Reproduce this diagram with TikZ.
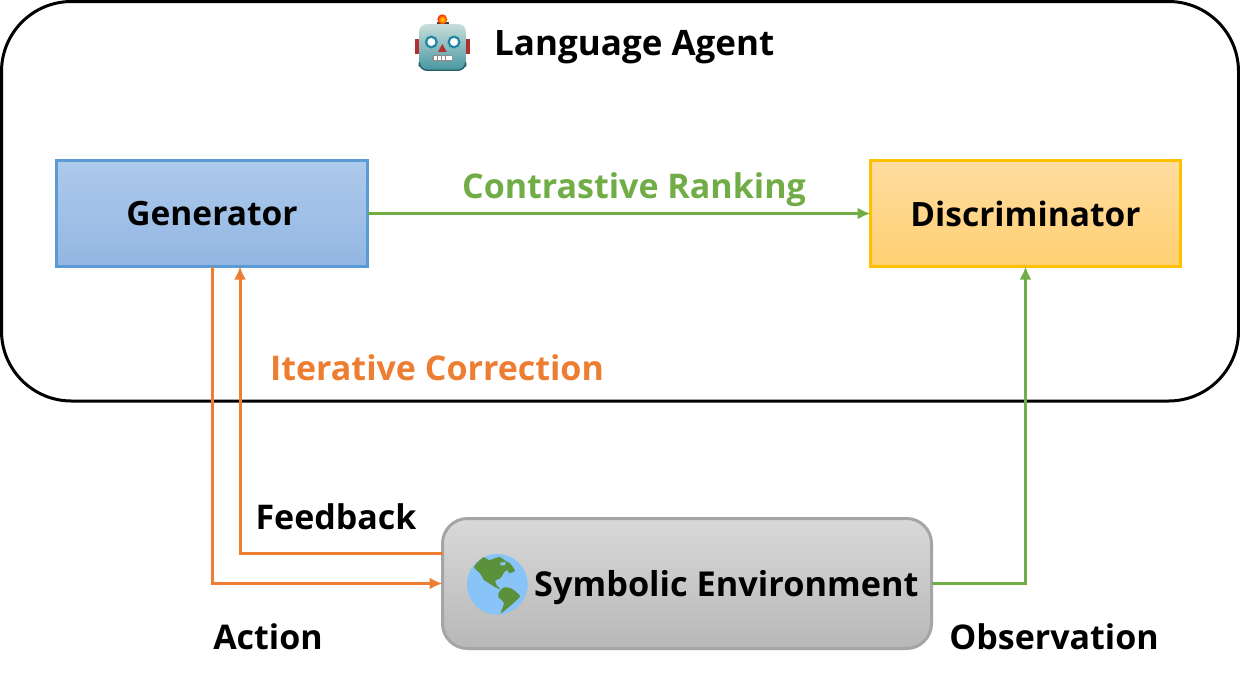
\documentclass[tikz,border=0pt]{standalone}
\usepackage{fontspec}
\setmainfont{Open Sans}
\usetikzlibrary{arrows.meta,calc}
\definecolor{cgreen}{HTML}{70AD47}
\definecolor{corange}{HTML}{ED7D31}
\definecolor{gblue}{HTML}{5B9BD5}
\definecolor{ygold}{HTML}{FFC000}
\definecolor{ggray}{HTML}{A5A5A5}
\definecolor{blutop}{HTML}{AECAEB}
\definecolor{blubot}{HTML}{92B6E2}
\definecolor{goldtop}{HTML}{FFDCA0}
\definecolor{goldbot}{HTML}{FFD072}
\definecolor{landg}{HTML}{5C913B}
\definecolor{seab}{HTML}{89C4F8}
\definecolor{robred}{HTML}{B03030}
\definecolor{robring}{HTML}{1E87A5}
\tikzset{
  box/.style={draw,line width=3pt,outer sep=0pt,minimum height=106pt,anchor=north west,inner sep=0pt,font=\fontsize{33.5}{40}\selectfont\bfseries},
  lab/.style={inner sep=0pt,font=\fontsize{34}{40}\selectfont\bfseries},
  link/.style={line width=3pt,-{Latex[length=13pt,width=12pt]}}
}
\begin{document}
\begin{tikzpicture}[x=1pt,y=-1pt]
\useasboundingbox (0,0) rectangle (1240,681);
\fill[white] (0,0) rectangle (1240,681);
\draw[line width=3pt,rounded corners=70pt] (1.5,1.5) rectangle (1238.5,401);
\node[box,draw=gblue,top color=blutop,bottom color=blubot,minimum width=311pt] (gen) at (56.5,160.5) {Generator};
\node[box,draw=ygold,top color=goldtop,bottom color=goldbot,minimum width=310pt] (disc) at (870.5,160.5) {Discriminator};
\node[draw=ggray,line width=3pt,outer sep=0pt,rounded corners=25pt,top color=black!15,bottom color=black!28,minimum width=489pt,minimum height=130pt,anchor=north west,inner sep=0pt] (env) at (442.5,518.5) {};
\node[lab,anchor=base west,font=\fontsize{34.3}{40}\selectfont\bfseries] (envt) at (534,596) {Symbolic Environment};
\node[lab,anchor=base west,font=\fontsize{35}{40}\selectfont\bfseries] (title) at (494,55) {Language Agent};
\node[lab,anchor=base,text=cgreen] (ct) at (634,198) {Contrastive Ranking};
\node[lab,anchor=base,text=corange] (it) at (437,380) {Iterative Correction};
\node[lab,anchor=base] (fb) at (336,529) {Feedback};
\node[lab,anchor=base] (ac) at (268,649) {Action};
\node[lab,anchor=base] (ob) at (1054,649) {Observation};
\coordinate (fbk) at (240,553);
\draw[link,cgreen] (gen.east) -- (disc.west);
\draw[link,corange] (gen.south) |- (env.west);
\draw[link,corange] (env.west |- fbk) -- (fbk) -- (gen.south -| fbk);
\draw[link,cgreen] (env.east) -| (disc.south);
% globe
\begin{scope}[shift={(430,510)},x=0.3333pt,y=-0.3333pt]
\fill[seab] (202,223) circle (91);
\fill[landg] plot[smooth cycle,tension=0.35] coordinates {(160,142) (178,150) (208,141) (226,152) (240,160) (255,182) (238,190) (232,180) (222,188) (212,204) (196,212) (200,226) (212,238) (196,232) (178,220) (162,210) (150,190) (132,170)};
\fill[seab] (210,158) -- (228,156) -- (224,166) -- (212,166) -- cycle;
\fill[landg] plot[smooth cycle,tension=0.35] coordinates {(206,248) (222,232) (245,236) (270,258) (252,278) (238,290) (212,310) (222,280) (206,262)};
\end{scope}
% robot
\begin{scope}[shift={(400,0)},x=0.3333pt,y=-0.3333pt]
\fill[robred] (46,117) rectangle (60,162);
\fill[robred] (196,117) rectangle (210,162);
\fill[black!75] (112,66) rectangle (146,78);
\shade[inner color=yellow!80!orange,outer color=red!70!orange] (127,58) circle (15);
\shade[rounded corners=8pt,top color={rgb,255:red,200;green,222;blue,218},bottom color={rgb,255:red,70;green,150;blue,160}] (57,72) rectangle (198,212);
\draw[color={rgb,255:red,40;green,90;blue,100},line width=1.2pt,rounded corners=8pt] (58,200) -- (58,211) -- (197,211) -- (197,200);
\draw[robring,fill=white,line width=2.2pt] (94,126) circle (16);
\draw[robring,fill=white,line width=2.2pt] (162,126) circle (16);
\fill[robred] (127,132) -- (140,156) -- (114,156) -- cycle;
\fill[rounded corners=3pt,black!45] (96,165) rectangle (158,184);
\foreach \t in {102,114,126,138,148}{\fill[white] (\t,169) rectangle ++(8,11);}
\end{scope}
\end{tikzpicture}
\end{document}
